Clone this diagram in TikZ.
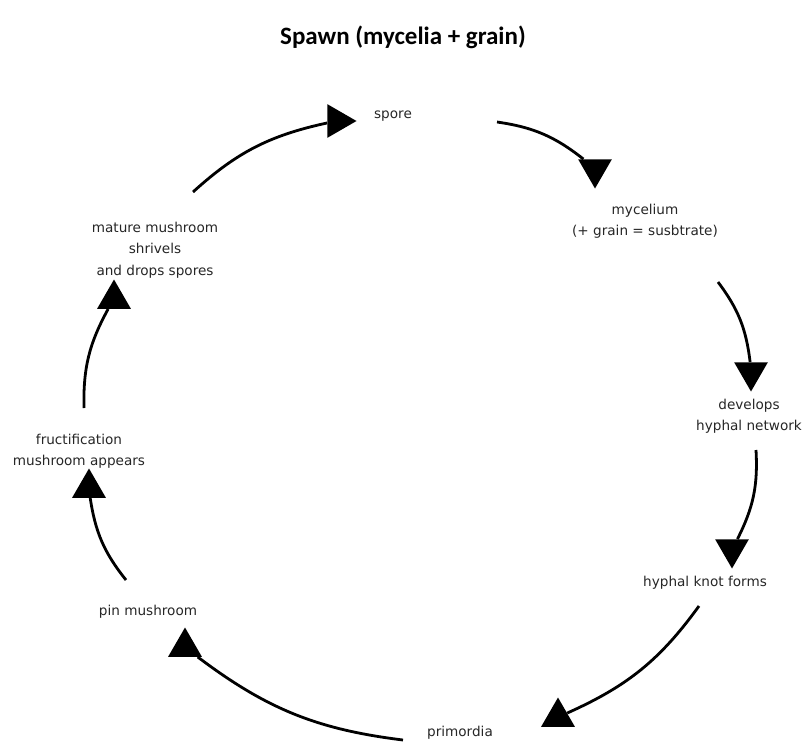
\documentclass[tikz,border=0pt]{standalone}
\usepackage{fontspec}
\usetikzlibrary{shapes.geometric}

\newfontfamily\titlefam{Carlito}
\newfontfamily\stagefam{DejaVu Sans}
\newcommand{\spawntitle}{\titlefam\bfseries\fontsize{25}{29}\selectfont}
\newcommand{\stagefont}{\stagefam\fontsize{13.6}{21.5}\selectfont}

\begin{document}
\begin{tikzpicture}
		[
			x=1pt, y=-1pt,
			stage/.style={align=center, font=\stagefont, text=black!85, inner sep=1pt},
			head/.style={regular polygon, regular polygon sides=3, fill=black, minimum size=39pt, inner sep=0pt},
			link/.style={line width=2.8pt, bend left=15},
		]

		\useasboundingbox (0,0) rectangle (806,744);

		% Title
		\node[font=\spawntitle] (title) at (403,37) {Spawn (mycelia + grain)};

		% Stages
		\node[stage] (spore) at (393,116) {spore};
		\node[stage] (myce) at (645,221) {mycelium\\(+ grain = susbtrate)};
		\node[stage] (netw) at (749,416) {develops\\hyphal network};
		\node[stage] (knot) at (705,583) {hyphal knot forms};
		\node[stage] (prim) at (460,733) {primordia};
		\node[stage] (pin) at (148,612) {pin mushroom};
		\node[stage] (fruc) at (79,451) {fructification\\mushroom appears};
		\node[stage] (drop) at (155,250) {mature mushroom\\shrivels\\and drops spores};

		% Heads
		\foreach \id/\px/\py/\turn in
		{
			h1/337/121/-90,
			h2/595/169/180,
			h3/751/372/180,
			h4/732/549/180,
			h5/558/717/0,
			h6/185/647/0,
			h7/89/488/0,
			h8/114/299/0
		}
			\node[head, shape border rotate=\turn] (\id) at (\px,\py) {};

		% Tails
		\foreach \id/\px/\py in
		{
			s1/193/192,
			s2/497/122,
			s3/718/282,
			s4/756/450,
			s5/699/606,
			s6/403/740,
			s7/126/580,
			s8/84/408
		}
			\coordinate (\id) at (\px,\py);

		% Cycle
		\foreach \u/\v in
		{
			s1/h1,
			s2/h2,
			s3/h3,
			s4/h4,
			s5/h5,
			s6/h6,
			s7/h7,
			s8/h8}
			\draw[link] (\u) to (\v);

		\end{tikzpicture}
\end{document}
